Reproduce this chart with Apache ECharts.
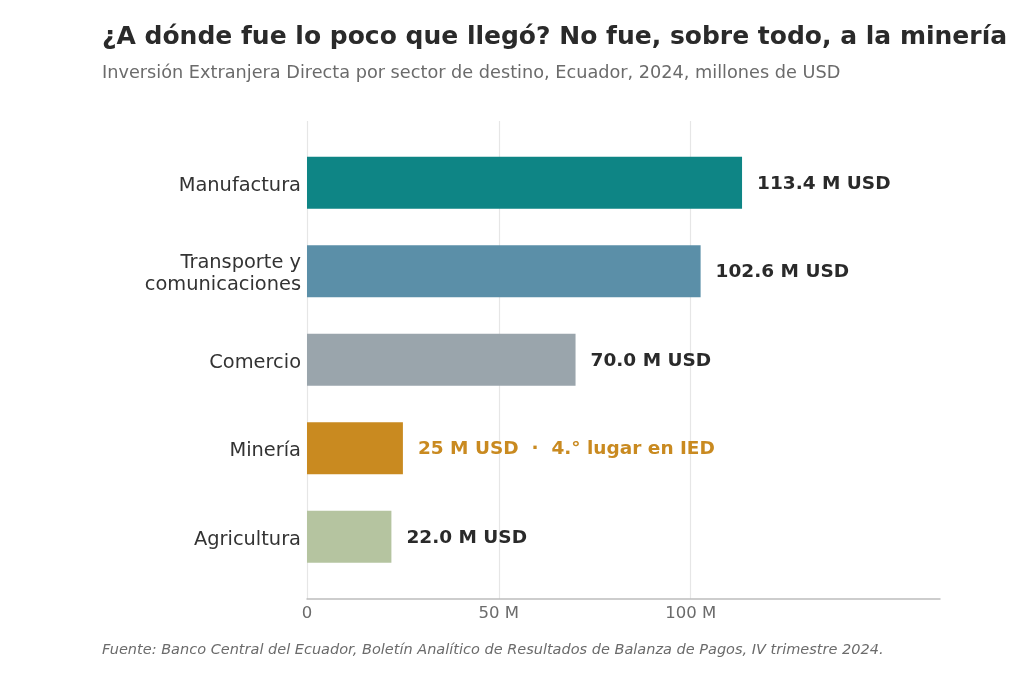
<!DOCTYPE html>
<html>
<head>
<meta charset="utf-8">
<script src="https://cdn.jsdelivr.net/npm/echarts@6/dist/echarts.min.js"></script>
<style>
html,body{margin:0;padding:0;background:#fff;}
#c{width:1023px;height:674px;}
</style>
</head>
<body>
<div id="c"></div>
<script>
const categories = ['Manufactura', 'Transporte y\ncomunicaciones', 'Comercio', 'Minería', 'Agricultura'];
const values = [113.4, 102.6, 70.0, 25.0, 22.0];
const barLabels = ['113.4 M USD', '102.6 M USD', '70.0 M USD', '25 M USD  ·  4.° lugar en IED', '22.0 M USD'];
const barColors = ['#0e8585', '#5b8fa8', '#9aa5ac', '#c98a20', '#b5c4a0'];
const labelColors = ['#2a2a2a', '#2a2a2a', '#2a2a2a', '#c98a20', '#2a2a2a'];
const tickLabels = {0: '0', 50: '50 M', 100: '100 M'};

const FONT = 'DejaVu Sans';
const chart = echarts.init(document.getElementById('c'));
chart.setOption({
  animation: false,
  backgroundColor: '#ffffff',
  textStyle: {fontFamily: FONT},
  title: [
    {text: '¿A dónde fue lo poco que llegó? No fue, sobre todo, a la minería', left: 97, top: 20,
     textStyle: {fontFamily: FONT, fontSize: 25, fontWeight: 'bold', color: '#2a2a2a'}},
    {text: 'Inversión Extranjera Directa por sector de destino, Ecuador, 2024, millones de USD', left: 97, top: 59,
     textStyle: {fontFamily: FONT, fontSize: 17.7, fontWeight: 'normal', color: '#6b6b6b'}},
    {text: 'Fuente: Banco Central del Ecuador, Boletín Analítico de Resultados de Balanza de Pagos, IV trimestre 2024.', left: 97, top: 638,
     textStyle: {fontFamily: FONT, fontSize: 14.5, fontWeight: 'normal', fontStyle: 'italic', color: '#6b6b6b'}}
  ],
  grid: [
    {left: 307, right: 83, top: 138.5, bottom: 93},
    {left: 307, right: 83, top: 121, bottom: 75},
    {left: 307, right: 83, top: 141.5, bottom: 90}
  ],
  xAxis: [
    {gridIndex: 0, type: 'value', min: 0, max: 165, show: false},
    {gridIndex: 1, type: 'value', min: 0, max: 165, interval: 50,
     axisLine: {show: true, lineStyle: {color: '#bdbdbd', width: 1.5}},
     axisTick: {show: false},
     axisLabel: {fontFamily: FONT, fontSize: 16.5, color: '#6b6b6b', margin: 6,
       formatter: v => (tickLabels[v] !== undefined ? tickLabels[v] : '')},
     splitLine: {show: true, lineStyle: {color: ['#e6e6e6', '#e6e6e6', '#e6e6e6', 'rgba(0,0,0,0)', 'rgba(0,0,0,0)'], width: 1.2}}
    },
    {gridIndex: 2, type: 'value', min: 0, max: 165, show: false}
  ],
  yAxis: [
    {gridIndex: 0, type: 'category', data: categories, inverse: true, show: false},
    {gridIndex: 1, type: 'value', show: false, min: 0, max: 1},
    {gridIndex: 2, type: 'category', data: categories, inverse: true,
     axisLine: {show: false}, axisTick: {show: false}, splitLine: {show: false},
     axisLabel: {fontFamily: FONT, fontSize: 19.4, color: '#333333', margin: 6, lineHeight: 22, align: 'right'}}
  ],
  series: [
    {
      type: 'bar', xAxisIndex: 0, yAxisIndex: 0, barWidth: 52,
      data: values.map((v, i) => ({
        value: v,
        itemStyle: {color: barColors[i]},
        label: {color: labelColors[i]}
      })),
      label: {show: true, position: 'right', distance: 15, fontFamily: FONT, fontSize: 18.5, fontWeight: 'bold',
        offset: [0, 1],
        formatter: p => barLabels[p.dataIndex]}
    }
  ]
});
</script>
</body>
</html>
